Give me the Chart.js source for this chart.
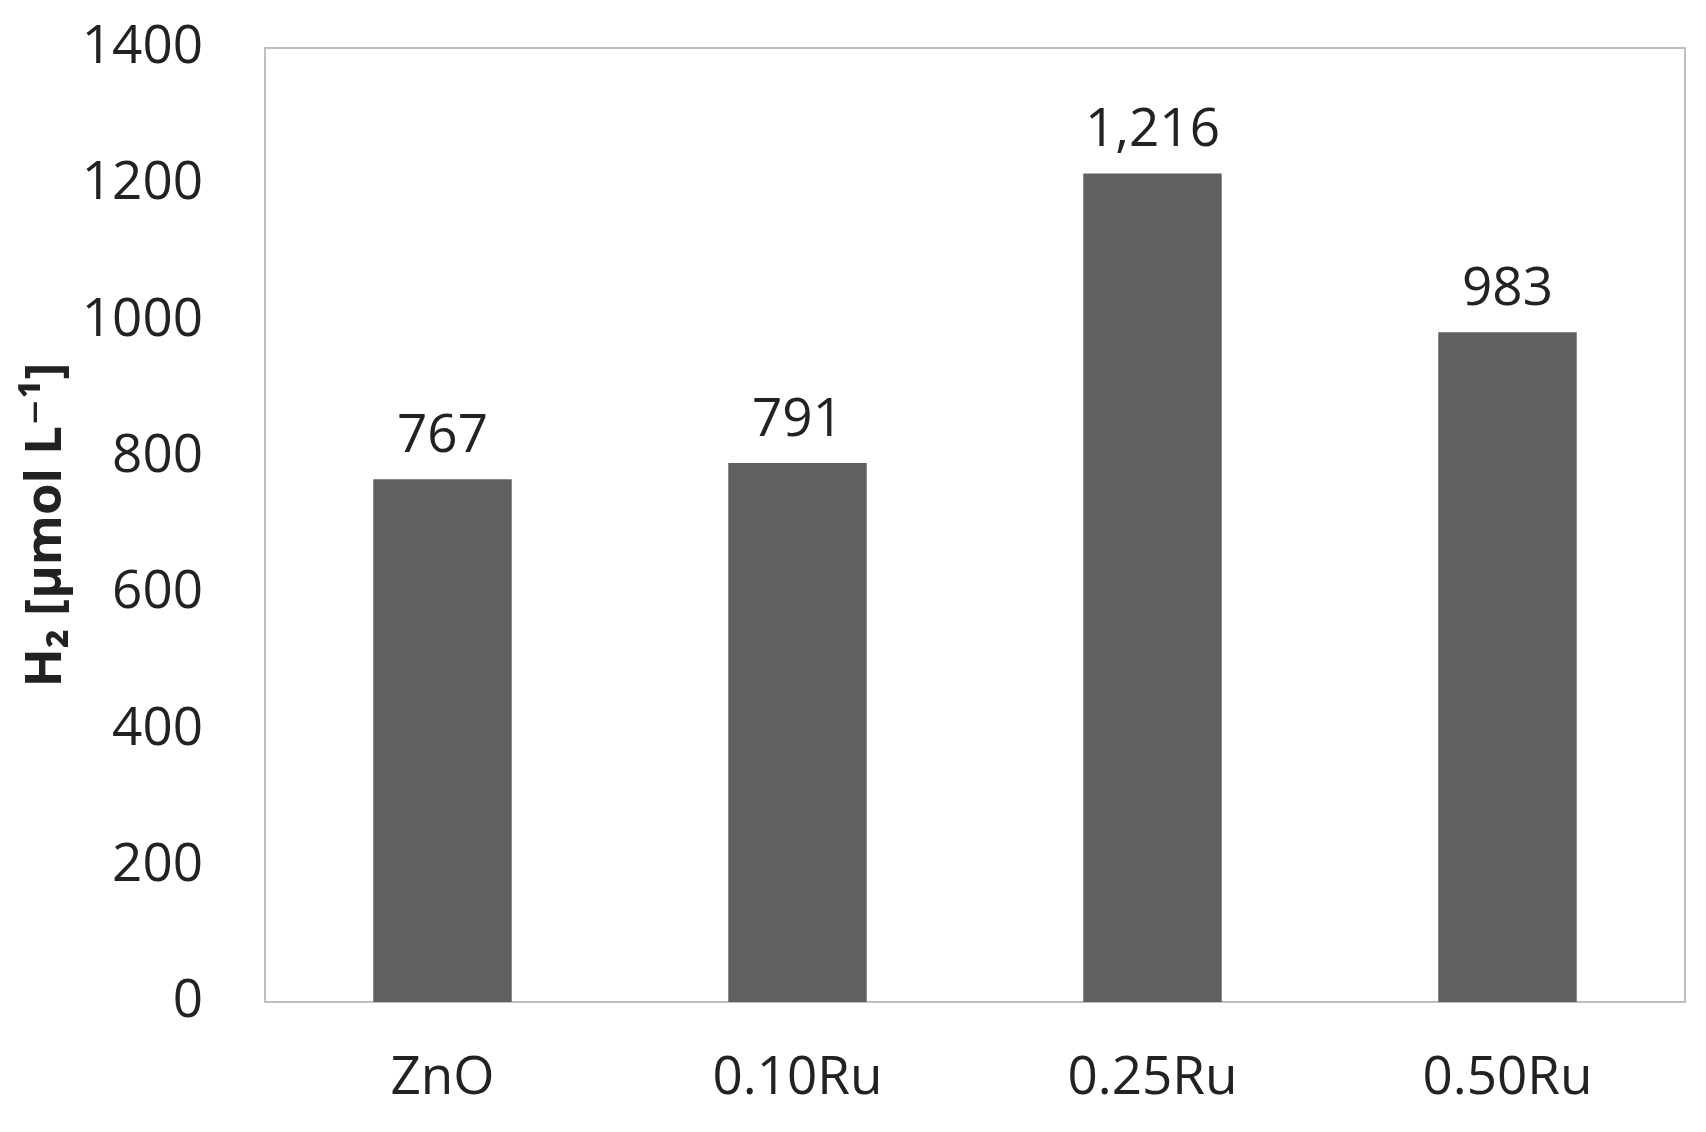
<!DOCTYPE html>
<html>
<head>
<meta charset="utf-8">
<script src="https://cdn.jsdelivr.net/npm/chart.js@4/dist/chart.umd.min.js"></script>
<style>
  html, body { margin: 0; padding: 0; background: #ffffff; }
  #wrap { width: 1706px; height: 1132px; }
</style>
</head>
<body>
<div id="wrap"><canvas id="h2Chart" width="1706" height="1132"></canvas></div>
<script>
// categorias e valores
const categorias = ['ZnO', '0.10Ru', '0.25Ru', '0.50Ru'];
const valoresH2 = [767, 791, 1216, 983];
const ticksY = [0, 200, 400, 600, 800, 1000, 1200, 1400];
const tituloY = 'H\u2082 [\u00b5mol L\u207b\u00b9]';

const corTexto = '#222222';
const corBarra = '#606060';
const corBorda = '#bfbfbf';
const fonte = "'Open Sans', 'DejaVu Sans', sans-serif";

// moldura em volta da área do gráfico
const moldura = {
    id: 'moldura',
    beforeDatasetsDraw(chart) {
        const a = chart.chartArea;
        const ctx = chart.ctx;
        ctx.save();
        ctx.strokeStyle = corBorda;
        ctx.lineWidth = 2;
        ctx.strokeRect(a.left, a.top, a.right - a.left, a.bottom - a.top);
        ctx.restore();
    }
};

// rótulos de valor acima das barras
const rotulos = {
    id: 'rotulos',
    afterDatasetsDraw(chart) {
        const ctx = chart.ctx;
        const meta = chart.getDatasetMeta(0);
        ctx.save();
        ctx.fillStyle = corTexto;
        ctx.font = '53px ' + fonte;
        ctx.textAlign = 'center';
        ctx.textBaseline = 'alphabetic';
        meta.data.forEach(function (barra, i) {
            const texto = valoresH2[i].toLocaleString('en-US');
            ctx.fillText(texto, barra.x, barra.y - 27);
        });
        ctx.restore();
    }
};

const ctx = document.getElementById('h2Chart').getContext('2d');
new Chart(ctx, {
    type: 'bar',
    data: {
        labels: categorias,
        datasets: [{
            data: valoresH2,
            backgroundColor: corBarra,
            borderWidth: 0,
            categoryPercentage: 1.0,
            barPercentage: 0.39
        }]
    },
    options: {
        responsive: false,
        animation: false,
        devicePixelRatio: 1,
        layout: { padding: { top: 48, right: 21, left: 0, bottom: 0 } },
        plugins: {
            legend: { display: false },
            tooltip: { enabled: false }
        },
        scales: {
            x: {
                grid: { display: false, drawTicks: false },
                border: { display: true, color: corBorda, width: 2 },
                ticks: {
                    color: corTexto,
                    font: { family: fonte, size: 53 },
                    padding: 45,
                    maxRotation: 0
                },
                afterFit(scale) {
                    scale.height = 130;
                    scale.paddingLeft = 0;
                    scale.paddingRight = 0;
                }
            },
            y: {
                min: 0,
                max: 1400,
                afterBuildTicks(scale) {
                    scale.ticks = ticksY.map(v => ({ value: v }));
                },
                grid: { display: false, drawTicks: false },
                border: { display: true, color: corBorda, width: 2 },
                ticks: {
                    color: corTexto,
                    font: { family: fonte, size: 53 },
                    padding: 62,
                    callback: v => String(v)
                },
                title: {
                    display: true,
                    text: tituloY,
                    color: corTexto,
                    font: { family: fonte, size: 51, weight: 'bold' },
                    padding: { top: 16, bottom: 0 }
                },
                afterFit(scale) {
                    scale.width = 265;
                    scale.paddingTop = 0;
                    scale.paddingBottom = 0;
                }
            }
        }
    },
    plugins: [moldura, rotulos]
});
</script>
</body>
</html>
